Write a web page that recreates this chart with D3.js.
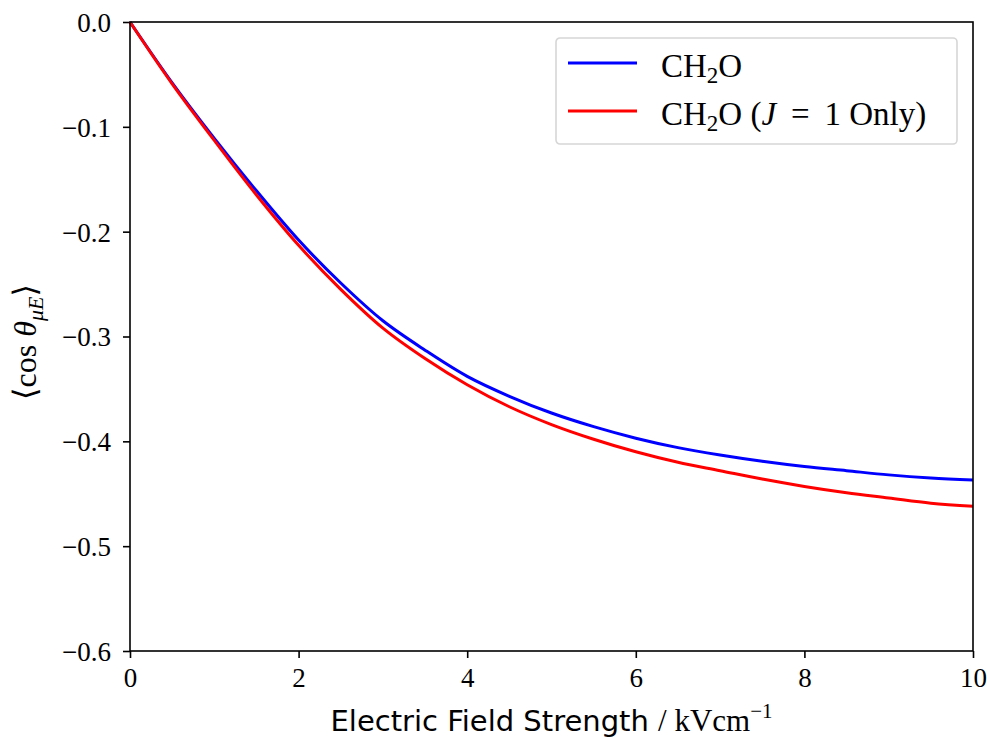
<!DOCTYPE html>
<html>
<head>
<meta charset="utf-8">
<script src="https://cdn.jsdelivr.net/npm/d3@7"></script>
<style>
body { margin: 0; background: #fff; }
text { fill: #000; }
</style>
</head>
<body>
<div id="chart"></div>
<script>
// field strength (kV/cm) and <cos theta> for the two cases
const field = [0, 0.5, 1, 1.5, 2, 2.5, 3, 3.5, 4, 4.5, 5, 5.5, 6, 6.5, 7, 7.5, 8, 8.5, 9, 9.5, 10];
const full = [0, -0.058, -0.111, -0.161, -0.208, -0.249, -0.285, -0.313, -0.338, -0.357, -0.373, -0.386, -0.397, -0.406, -0.413, -0.419, -0.424, -0.428, -0.432, -0.435, -0.437];
const jOne = [0, -0.059, -0.113, -0.165, -0.213, -0.255, -0.292, -0.321, -0.346, -0.367, -0.384, -0.398, -0.410, -0.420, -0.428, -0.436, -0.443, -0.449, -0.454, -0.459, -0.462];
const xTicks = [0, 2, 4, 6, 8, 10];
const yTicks = [0, -0.1, -0.2, -0.3, -0.4, -0.5, -0.6];

const w = 987, h = 738;
const m = {left: 130, right: 14, top: 22, bottom: 87};

const svg = d3.select("#chart").append("svg")
	.attr("width", w).attr("height", h);

const x = d3.scaleLinear().domain([0, 10]).range([m.left, w - m.right]);
const y = d3.scaleLinear().domain([-0.6, 0]).range([h - m.bottom, m.top]);

const serif = "'Liberation Serif', 'DejaVu Serif', serif";
const fmt = d => d === 0 ? "0.0" : d3.format(".1f")(d).replace("-", "\u2212");

// axes
const xAxis = svg.append("g")
	.attr("transform", "translate(0," + (h - m.bottom) + ")")
	.call(d3.axisBottom(x).tickValues(xTicks).tickSize(7).tickPadding(10).tickFormat(d3.format("d")));
const yAxis = svg.append("g")
	.attr("transform", "translate(" + m.left + ",0)")
	.call(d3.axisLeft(y).tickValues(yTicks).tickSize(7).tickPadding(12).tickFormat(fmt));

[xAxis, yAxis].forEach(function(g) {
	g.attr("font-family", serif);
	g.select(".domain").remove();
	g.selectAll(".tick line").attr("stroke", "#000").attr("stroke-width", 1.6);
	g.selectAll(".tick text").attr("font-family", serif).attr("font-size", 27).attr("fill", "#000");
});
yAxis.selectAll(".tick text").attr("dy", "0.35em");

// lines
const line = d3.line().curve(d3.curveCatmullRom.alpha(0.5));
const series = [
	{vals: full, color: "#0000ff"},
	{vals: jOne, color: "#ff0000"}
];
series.forEach(function(s) {
	svg.append("path")
		.attr("d", line(field.map((f, i) => [x(f), y(s.vals[i])])))
		.attr("fill", "none")
		.attr("stroke", s.color)
		.attr("stroke-width", 3);
});

// frame
svg.append("rect")
	.attr("x", m.left).attr("y", m.top)
	.attr("width", w - m.left - m.right).attr("height", h - m.top - m.bottom)
	.attr("fill", "none").attr("stroke", "#000").attr("stroke-width", 1.6);

// legend
const lg = svg.append("g").attr("transform", "translate(556,38)");
lg.append("rect")
	.attr("width", 401).attr("height", 106).attr("rx", 4)
	.attr("fill", "#fff").attr("stroke", "#d6d6d6").attr("stroke-width", 1.6);

const labels = [
	{color: "#0000ff", extra: false},
	{color: "#ff0000", extra: true}
];
labels.forEach(function(l, i) {
	const yy = 25 + i * 48;
	lg.append("line")
		.attr("x1", 12).attr("x2", 81).attr("y1", yy).attr("y2", yy)
		.attr("stroke", l.color).attr("stroke-width", 3);
	const t = lg.append("text")
		.attr("x", 105).attr("y", yy + 14)
		.attr("font-family", serif).attr("font-size", 33);
	t.append("tspan").text("CH");
	t.append("tspan").attr("font-size", 23).attr("dy", 6).text("2");
	t.append("tspan").attr("dy", -6).text("O");
	if (l.extra) {
		t.append("tspan").text(" (");
		t.append("tspan").attr("font-style", "italic").text("J");
		t.append("tspan").text(" \u2009=\u2009 1 Only)");
	}
});

// x label
const xl = svg.append("text")
	.attr("x", (m.left + w - m.right) / 2).attr("y", 731)
	.attr("text-anchor", "middle").attr("font-size", 31);
xl.append("tspan").attr("font-family", "'DejaVu Sans', sans-serif").attr("font-size", 29).text("Electric Field Strength ");
xl.append("tspan").attr("font-family", serif).text("/ kVcm");
xl.append("tspan").attr("font-family", serif).attr("font-size", 21).attr("dy", -13).text("\u22121");

// y label
const yl = svg.append("text")
	.attr("transform", "translate(36,342) rotate(-90)")
	.attr("text-anchor", "middle")
	.attr("font-family", serif).attr("font-size", 32);
yl.append("tspan").text("\u27E8cos ");
yl.append("tspan").attr("font-style", "italic").text("\u03B8");
yl.append("tspan").attr("font-style", "italic").attr("font-size", 22).attr("dy", 7).text("\u03BCE");
yl.append("tspan").attr("dy", -7).text("\u27E9");
</script>
</body>
</html>
